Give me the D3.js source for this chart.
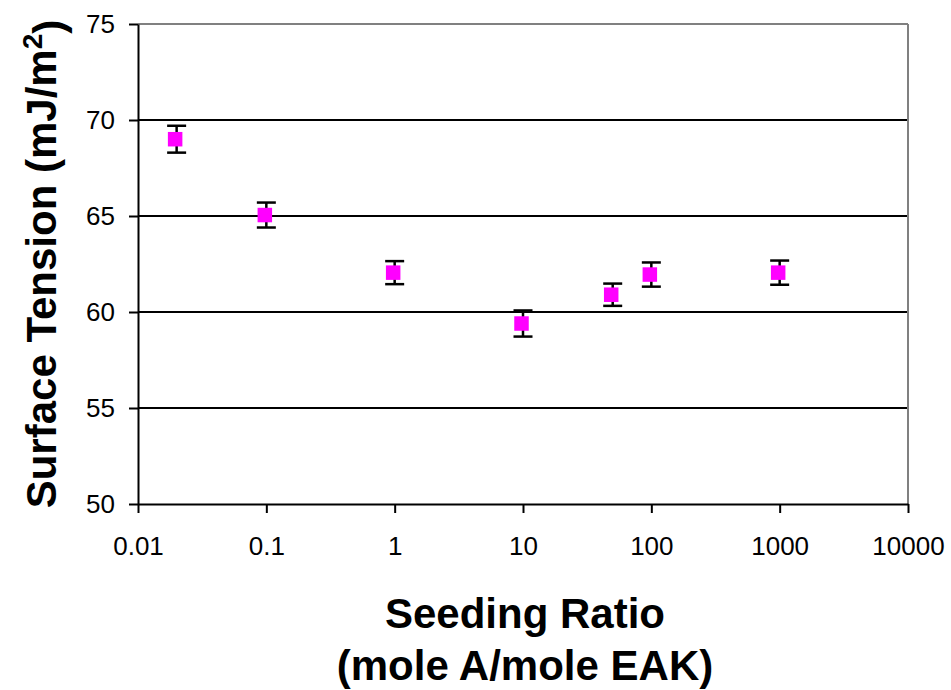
<!DOCTYPE html>
<html>
<head>
<meta charset="utf-8">
<script src="https://cdn.jsdelivr.net/npm/d3@7"></script>
<style>
  body { margin: 0; background: #fff; }
  svg { font-family: "Liberation Sans", Arial, sans-serif; }
</style>
</head>
<body>
<svg id="chart" width="951" height="690"></svg>
<script>
// seeding ratio (mole A / mole EAK)
const ratios = [0.02, 0.1, 1, 10, 50, 100, 1000];
// surface tension (mJ/m^2)
const tension = [69.0, 65.05, 62.05, 59.4, 60.9, 61.95, 62.05];
const errors = [0.7, 0.65, 0.6, 0.68, 0.58, 0.63, 0.63];
const xTicks = [0.01, 0.1, 1, 10, 100, 1000, 10000];
const yTicks = [50, 55, 60, 65, 70, 75];

const plotLeft = 138, plotRight = 908, plotTop = 24, plotBottom = 504;

const svg = d3.select("#chart");

const x = d3.scaleLog().domain([0.01, 10000]).range([plotLeft, plotRight]);
const y = d3.scaleLinear().domain([50, 75]).range([plotBottom, plotTop]);

// horizontal gridlines
svg.append("g")
  .selectAll("line")
  .data(yTicks.filter(d => d > 50 && d < 75))
  .join("line")
  .attr("x1", plotLeft).attr("x2", plotRight)
  .attr("y1", d => y(d)).attr("y2", d => y(d))
  .attr("stroke", "#000").attr("stroke-width", 2);

// plot frame: gray top and right
svg.append("line")
  .attr("x1", plotLeft).attr("x2", plotRight).attr("y1", plotTop).attr("y2", plotTop)
  .attr("stroke", "#808080").attr("stroke-width", 2);
svg.append("line")
  .attr("x1", plotRight).attr("x2", plotRight).attr("y1", plotTop).attr("y2", plotBottom)
  .attr("stroke", "#808080").attr("stroke-width", 2);

const fmt = d => (d < 1 ? String(d) : d3.format("d")(d));

const xAxis = svg.append("g")
  .attr("transform", `translate(0,${plotBottom})`)
  .call(d3.axisBottom(x).tickValues(xTicks).tickFormat(fmt).tickSize(9).tickSizeOuter(0).tickPadding(24));

const yAxis = svg.append("g")
  .attr("transform", `translate(${plotLeft},0)`)
  .call(d3.axisLeft(y).tickValues(yTicks).tickSize(9).tickSizeOuter(0).tickPadding(14));

[xAxis, yAxis].forEach(g => {
  g.select(".domain").attr("stroke", "#000").attr("stroke-width", 2);
  g.selectAll(".tick line").attr("stroke", "#000").attr("stroke-width", 2);
  g.selectAll(".tick text")
    .attr("fill", "#000")
    .style("font-size", "26px")
    .style("font-family", "'Liberation Sans', Arial, sans-serif");
});
xAxis.selectAll(".tick text").attr("dy", "0.71em");

// error bars
const eb = svg.append("g").attr("stroke", "#000").attr("stroke-width", 2.5);
const cap = 9.5;
ratios.forEach((r, i) => {
  const cx = x(r);
  const y1 = y(tension[i] + errors[i]);
  const y2 = y(tension[i] - errors[i]);
  eb.append("line").attr("x1", cx).attr("x2", cx).attr("y1", y1).attr("y2", y2);
  eb.append("line").attr("x1", cx - cap).attr("x2", cx + cap).attr("y1", y1).attr("y2", y1);
  eb.append("line").attr("x1", cx - cap).attr("x2", cx + cap).attr("y1", y2).attr("y2", y2);
});

// markers
const size = 14.5;
svg.append("g")
  .selectAll("rect")
  .data(ratios.map((r, i) => ({ r, v: tension[i] })))
  .join("rect")
  .attr("x", d => x(d.r) - size / 2 - 1.5)
  .attr("y", d => y(d.v) - size / 2)
  .attr("width", size).attr("height", size)
  .attr("fill", "#ff00ff");

// axis titles
svg.append("text")
  .attr("x", 525).attr("y", 628)
  .attr("text-anchor", "middle")
  .style("font-size", "42px").style("font-weight", "bold")
  .text("Seeding Ratio");
svg.append("text")
  .attr("x", 525).attr("y", 680)
  .attr("text-anchor", "middle")
  .style("font-size", "42px").style("font-weight", "bold")
  .text("(mole A/mole EAK)");

const yt = svg.append("text")
  .attr("transform", "translate(56,264) rotate(-90)")
  .attr("text-anchor", "middle")
  .style("font-size", "42px").style("font-weight", "bold");
yt.append("tspan").text("Surface Tension (mJ/m");
yt.append("tspan").attr("dy", "-0.5em").style("font-size", "28px").text("2");
yt.append("tspan").attr("dy", "0.5em").text(")");
</script>
</body>
</html>
